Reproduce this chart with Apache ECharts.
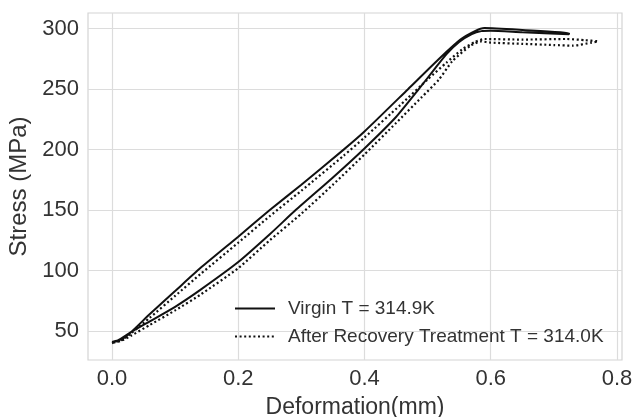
<!DOCTYPE html>
<html>
<head>
<meta charset="utf-8">
<script src="https://cdn.jsdelivr.net/npm/echarts@6/dist/echarts.min.js"></script>
<style>
  html, body { margin: 0; padding: 0; background: #fff; }
  #chart { width: 633px; height: 417px; }
</style>
</head>
<body>
<div id="chart"></div>
<script>
// Virgin T = 314.9K : loop (upper branch up, plateau out and back, lower branch down)
const virginX = [0.0, 0.015, 0.03, 0.06, 0.1, 0.14, 0.2, 0.25, 0.3, 0.367, 0.4, 0.469, 0.52, 0.552, 0.575, 0.59,
  0.65, 0.724, 0.724, 0.65, 0.6, 0.585,
  0.57, 0.55, 0.53, 0.51, 0.486, 0.45, 0.4, 0.35, 0.291, 0.25, 0.2, 0.14, 0.1, 0.06, 0.03, 0.015, 0.005];
const virginY = [41, 43, 49, 64, 83, 102, 128, 150, 171, 200, 215, 250, 276, 291, 298, 300.5,
  299, 296.5, 295.5, 297, 298.3, 298,
  295.5, 289, 279, 266, 250, 227, 201, 177, 150, 130, 107, 84, 70, 58, 49, 44, 41];

// After Recovery Treatment T = 314.0K
const recoveryX = [0.0, 0.015, 0.03, 0.06, 0.1, 0.14, 0.2, 0.25, 0.3, 0.367, 0.4, 0.457, 0.5, 0.53, 0.555, 0.575, 0.59,
  0.65, 0.72, 0.75, 0.77, 0.76, 0.73, 0.7, 0.65, 0.6, 0.585,
  0.568, 0.539, 0.518, 0.49, 0.45, 0.4, 0.35, 0.3, 0.25, 0.2, 0.14, 0.1, 0.06, 0.03, 0.015, 0.0];
const recoveryY = [40, 42.5, 48, 61, 79, 97, 123, 145, 166, 195, 210, 237, 258, 272, 283, 289, 291.5,
  291, 291.5, 290.5, 289.5, 288.5, 286, 286.5, 287.5, 288.5, 289.5,
  286, 273, 258, 243, 222, 196, 171, 147, 125, 102, 80, 67, 55, 46, 42, 40];

const xTicks = [0.0, 0.2, 0.4, 0.6, 0.8];
const yTicks = [50, 100, 150, 200, 250, 300];

const seriesNames = ['Virgin T = 314.9K', 'After Recovery Treatment T = 314.0K'];

function pairs(xs, ys) {
  return xs.map((x, i) => [x, ys[i]]);
}

const FONT = 'Liberation Sans, Arial, sans-serif';
const chart = echarts.init(document.getElementById('chart'), null, { renderer: 'canvas' });

chart.setOption({
  animation: false,
  backgroundColor: '#fff',
  grid: {
    left: 88, right: 11, top: 13, bottom: 57,
    outerBoundsMode: 'none',
    show: true, borderColor: '#d4d4d4', borderWidth: 1.2
  },
  legend: {
    orient: 'vertical',
    left: 229, top: 294,
    itemWidth: 40, itemHeight: 10, itemGap: 9,
    data: seriesNames,
    itemStyle: { opacity: 0 },
    textStyle: { fontFamily: FONT, fontSize: 19, lineHeight: 19, color: '#333', padding: [0, 0, 0, 8] }
  },
  xAxis: {
    type: 'value',
    min: -0.038, max: 0.808,
    name: 'Deformation(mm)',
    nameLocation: 'middle', nameGap: 36,
    nameTextStyle: { fontFamily: FONT, fontSize: 23, color: '#333' },
    axisLine: { show: false },
    axisTick: { show: false, customValues: xTicks },
    axisLabel: {
      customValues: xTicks, margin: 8,
      fontFamily: FONT, fontSize: 22, color: '#333',
      formatter: v => v.toFixed(1)
    },
    splitLine: { show: true, lineStyle: { color: '#dcdcdc', width: 1.2 } }
  },
  yAxis: {
    type: 'value',
    min: 26, max: 313,
    name: 'Stress (MPa)',
    nameLocation: 'middle', nameGap: 52,
    nameTextStyle: { fontFamily: FONT, fontSize: 24, color: '#333' },
    axisLine: { show: false },
    axisTick: { show: false, customValues: yTicks },
    axisLabel: {
      customValues: yTicks, margin: 9,
      fontFamily: FONT, fontSize: 22, color: '#333'
    },
    splitLine: { show: true, lineStyle: { color: '#dcdcdc', width: 1.2 } }
  },
  series: [
    {
      name: seriesNames[0],
      type: 'line',
      symbol: 'none',
      smooth: 0.2,
      data: pairs(virginX, virginY),
      itemStyle: { color: '#111' },
      lineStyle: { color: '#111', width: 2 }
    },
    {
      name: seriesNames[1],
      type: 'line',
      symbol: 'none',
      smooth: 0.2,
      data: pairs(recoveryX, recoveryY),
      itemStyle: { color: '#111' },
      lineStyle: { color: '#111', width: 2.2, type: [2, 2.6] }
    }
  ]
});
</script>
</body>
</html>
